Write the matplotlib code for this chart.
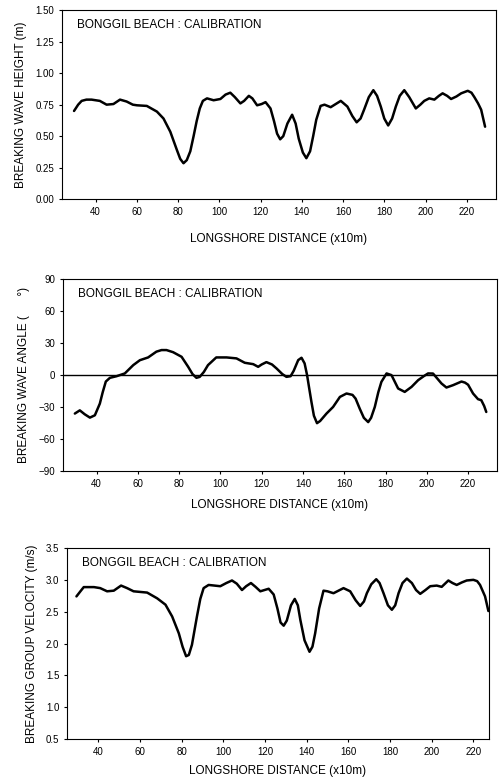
import numpy as np
import matplotlib
matplotlib.use('Agg')
from matplotlib import pyplot as plt

plt.rcParams['font.family'] = ['Liberation Sans', 'DejaVu Sans']

# 波高 (m)
x_h = [29.5, 31.5, 33.2, 35.5, 38, 42, 45.3, 48.6, 51.8, 55, 58, 60, 64.8, 69.7, 72.9, 76.2,
       79.4, 81, 82.6, 84.2, 85.9, 87.5, 89, 90.5, 92, 94, 97.2, 100.5, 103, 105.3, 107.5,
       110.2, 112, 114.3, 116, 118.3, 120.5, 122.4, 124.8, 126.5, 128, 129.5, 131, 133, 135.3,
       137, 138.5, 140.5, 142.2, 144, 145.5, 147, 149.1, 151, 154, 158.9, 162.1, 164.5, 166.6,
       168.5, 170.2, 172.5, 174.7, 176.5, 178.3, 180, 181.9, 183.8, 185.6, 187.5, 189.7, 192.1,
       195.3, 197.5, 199.4, 201.8, 204.3, 206.5, 208.3, 210.5, 212.4, 215, 217.3, 220.5, 222.3,
       223.7, 225.5, 227, 228.9]
height = [0.70, 0.75, 0.78, 0.79, 0.79, 0.78, 0.75, 0.755, 0.79, 0.775, 0.75, 0.745, 0.74, 0.695,
          0.64, 0.535, 0.39, 0.32, 0.285, 0.31, 0.38, 0.50, 0.62, 0.72, 0.78, 0.80, 0.785, 0.795,
          0.83, 0.845, 0.81, 0.76, 0.78, 0.82, 0.80, 0.745, 0.755, 0.77, 0.72, 0.62, 0.52, 0.475,
          0.50, 0.60, 0.67, 0.60, 0.48, 0.37, 0.325, 0.38, 0.50, 0.63, 0.74, 0.75, 0.73, 0.78,
          0.735, 0.66, 0.61, 0.64, 0.71, 0.81, 0.865, 0.82, 0.735, 0.64, 0.585, 0.64, 0.735, 0.82,
          0.865, 0.81, 0.72, 0.75, 0.78, 0.80, 0.79, 0.82, 0.84, 0.82, 0.795, 0.815, 0.84, 0.86,
          0.845, 0.81, 0.76, 0.71, 0.575]

# 波向 (度)
x_a = [29.5, 31.9, 34.3, 36.8, 39.2, 41.6, 43, 44.5, 46.5, 49.7, 53.7, 57.8, 61, 65, 69, 71.5,
       73.9, 77.1, 81.2, 84.4, 86.5, 88.4, 90, 92, 94, 98, 103, 107.8, 111.8, 115.9, 118.3, 120,
       122.3, 125, 127.2, 130, 132, 134, 135.5, 137.7, 139.3, 140.8, 142, 143, 144.1, 145.3,
       146.8, 148.3, 151.4, 154.6, 157.9, 161.1, 164, 165.5, 167.5, 169.5, 171.6, 173, 174.8,
       176.5, 178, 180.5, 182.9, 186.1, 189.3, 192.6, 195.8, 198.5, 200.6, 203, 205, 207.1,
       209.5, 212.7, 216.8, 218.5, 220, 222.4, 224.8, 226.4, 227.8, 228.8]
angle = [-36, -33, -36.7, -39.8, -37.6, -26.7, -16, -6, -2.5, -1, 1.6, 9.4, 14, 16.6, 22, 23.5,
         23.5, 21.5, 17.2, 7.8, 1, -2.5, -1.6, 3, 9.4, 16.6, 16.6, 15.7, 11.6, 10.3, 7.8, 10,
         12.2, 10, 6.3, 1, -1.6, -1, 4, 14.1, 16.3, 11, 0, -12, -25, -38,
         -45, -43, -36, -29.8, -20.4, -17.2, -18.5, -22, -31.4, -40, -44, -40, -29.8,
         -16, -6.3, 1.6, 0, -12.5, -15.7, -11, -4.7, -1, 1.6, 1.5, -3, -7.8,
         -11.6, -9.4, -6, -7, -9, -17.2, -22.5, -23.5, -29, -34.5]

# 群速度 (m/s)
x_v = [29.6, 31.5, 33.1, 38, 41, 44.3, 47.5, 51, 53.9, 57, 63.5, 68.3, 72.3, 75.5, 78.7, 80.5,
       82.2, 83.5, 85, 87.4, 89, 90.6, 93, 98.6, 101.5, 104.2, 106.5, 109, 111, 113.3, 115.5,
       117.8, 121.8, 124.2, 126, 127.5, 129, 130.5, 132.5, 134.3, 135.8, 137, 139, 141.4, 142.8,
       144.1, 146, 148.1, 150, 152.9, 157.7, 160.9, 163.5, 165.7, 167.5, 168.9, 171, 173.4, 175,
       176.9, 179, 180.9, 182.5, 184.1, 186, 188.1, 190.5, 192.5, 194.5, 197, 199.3, 202.4,
       204.8, 208, 210, 212, 214.5, 216.8, 220, 221.8, 223.2, 225.6, 227.2]
velocity = [2.74, 2.82, 2.886, 2.886, 2.87, 2.82, 2.83, 2.91, 2.87, 2.82, 2.80, 2.71, 2.61, 2.425,
            2.16, 1.95, 1.80, 1.82, 1.98, 2.425, 2.70, 2.87, 2.92, 2.90, 2.95, 2.99, 2.94, 2.84,
            2.90, 2.95, 2.89, 2.82, 2.86, 2.77, 2.55, 2.33, 2.28, 2.36, 2.60, 2.70, 2.60, 2.37,
            2.05, 1.87, 1.95, 2.16, 2.55, 2.83, 2.82, 2.79, 2.87, 2.82, 2.68, 2.59, 2.66, 2.79,
            2.93, 3.01, 2.95, 2.79, 2.60, 2.53, 2.60, 2.79, 2.95, 3.02, 2.95, 2.84, 2.78, 2.84,
            2.90, 2.91, 2.89, 2.99, 2.95, 2.92, 2.96, 2.99, 3.00, 2.98, 2.92, 2.74, 2.51]

x_ticks = [40, 60, 80, 100, 120, 140, 160, 180, 200, 220]
xlabel = 'LONGSHORE DISTANCE (x10m)'
title = 'BONGGIL BEACH : CALIBRATION'

fig = plt.figure(figsize=(4.99, 7.84), dpi=100)


def style(ax, lp):
    for s in ax.spines.values():
        s.set_linewidth(0.8)
    ax.tick_params(direction='out', length=2.5, width=0.8, labelsize=7, pad=3)
    ax.set_xticks(x_ticks)
    ax.set_xlabel(xlabel, fontsize=8.5, labelpad=lp)
    ax.text(0.035, 0.92, title, transform=ax.transAxes, fontsize=8.5, va='center')


line_kw = dict(color='black', lw=1.8, solid_joinstyle='round', solid_capstyle='round')

# 1: 波高
ax1 = fig.add_axes([0.124, 0.746, 0.870, 0.241])
ax1.plot(x_h, height, **line_kw)
ax1.set_xlim(23.6, 234.2)
ax1.set_ylim(0, 1.5)
ax1.set_yticks([0, 0.25, 0.5, 0.75, 1.0, 1.25, 1.5])
ax1.set_yticklabels(['0.00', '0.25', '0.50', '0.75', '1.00', '1.25', '1.50'])
ax1.set_ylabel('BREAKING WAVE HEIGHT (m)', fontsize=8.5, labelpad=6)
style(ax1, 12)

# 2: 波向
ax2 = fig.add_axes([0.126, 0.399, 0.870, 0.245])
ax2.plot(x_a, angle, **line_kw)
ax2.axhline(0, color='black', lw=1.0)
ax2.set_xlim(23.7, 234)
ax2.set_ylim(-90, 90)
ax2.set_yticks([-90, -60, -30, 0, 30, 60, 90])
ax2.set_yticklabels(['\u221290', '\u221260', '\u221230', '0', '30', '60', '90'])
ax2.set_ylabel('BREAKING WAVE ANGLE (      \u00b0)', fontsize=8.5, labelpad=6)
style(ax2, 7)

# 3: 群速度
ax3 = fig.add_axes([0.134, 0.0574, 0.846, 0.2436])
ax3.plot(x_v, velocity, **line_kw)
ax3.set_xlim(25, 227.5)
ax3.set_ylim(0.5, 3.5)
ax3.set_yticks([0.5, 1.0, 1.5, 2.0, 2.5, 3.0, 3.5])
ax3.set_ylabel('BREAKING GROUP VELOCITY (m/s)', fontsize=8.5, labelpad=6)
style(ax3, 6)

fig.savefig('out.png', dpi=100)
